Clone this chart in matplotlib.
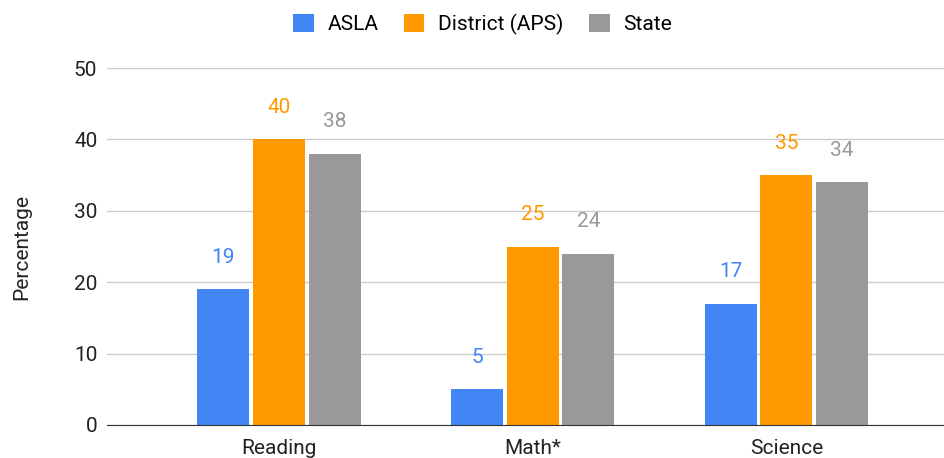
import matplotlib
matplotlib.use("Agg")
import matplotlib.pyplot as plt
import numpy as np

plt.rcParams['font.family'] = ['Roboto', 'DejaVu Sans']

categories = ["Reading", "Math*", "Science"]
series_names = ["ASLA", "District (APS)", "State"]
asla = [19, 5, 17]
district = [40, 25, 35]
state = [38, 24, 34]
colors = ["#4285F4", "#FF9900", "#999999"]
yticks = [0, 10, 20, 30, 40, 50]

FS = 15
fig = plt.figure(figsize=(9.45, 4.58), dpi=100)
ax = fig.add_axes([107/945, 1 - 425/458, (945-107)/945, (425-68)/458])

x = np.arange(len(categories))
width = 0.205
step = 0.219
for i, (vals, c, name) in enumerate(zip([asla, district, state], colors, series_names)):
    pos = x + (i - 1) * step
    bars = ax.bar(pos, vals, width=width, color=c, label=name, zorder=3)
    for b, v in zip(bars, vals):
        ax.annotate(str(v), (b.get_x() + b.get_width()/2, v), xytext=(0, 16),
                    textcoords='offset points', ha='center', va='bottom',
                    color=c, fontsize=FS)

ax.set_xlim(-0.678, 2.625)
ax.set_ylim(0, 50)
ax.set_yticks(yticks)
ax.set_yticklabels([str(t) for t in yticks], fontsize=FS, color='#222222')
ax.set_xticks(x)
ax.set_xticklabels(categories, fontsize=FS, color='#222222')
ax.tick_params(axis='both', length=0)
ax.tick_params(axis='y', pad=7)
ax.tick_params(axis='x', pad=10)
ax.grid(axis='y', color='#cccccc', linewidth=1, zorder=0)
for s in ['top', 'right', 'left']:
    ax.spines[s].set_visible(False)
ax.spines['bottom'].set_color('#333333')
ax.spines['bottom'].set_zorder(4)
ax.set_ylabel("Percentage", fontsize=FS, color='#222222')
ax.yaxis.set_label_coords(-(107 - 31)/838, 0.5)

fig.legend(loc='upper center', bbox_to_anchor=(482.5/945, 1.0 + 5/458), ncol=3, frameon=False,
           fontsize=FS, handlelength=1.0, handleheight=1.0, columnspacing=1.2,
           handletextpad=0.67)

fig.savefig("out.png", dpi=100)
